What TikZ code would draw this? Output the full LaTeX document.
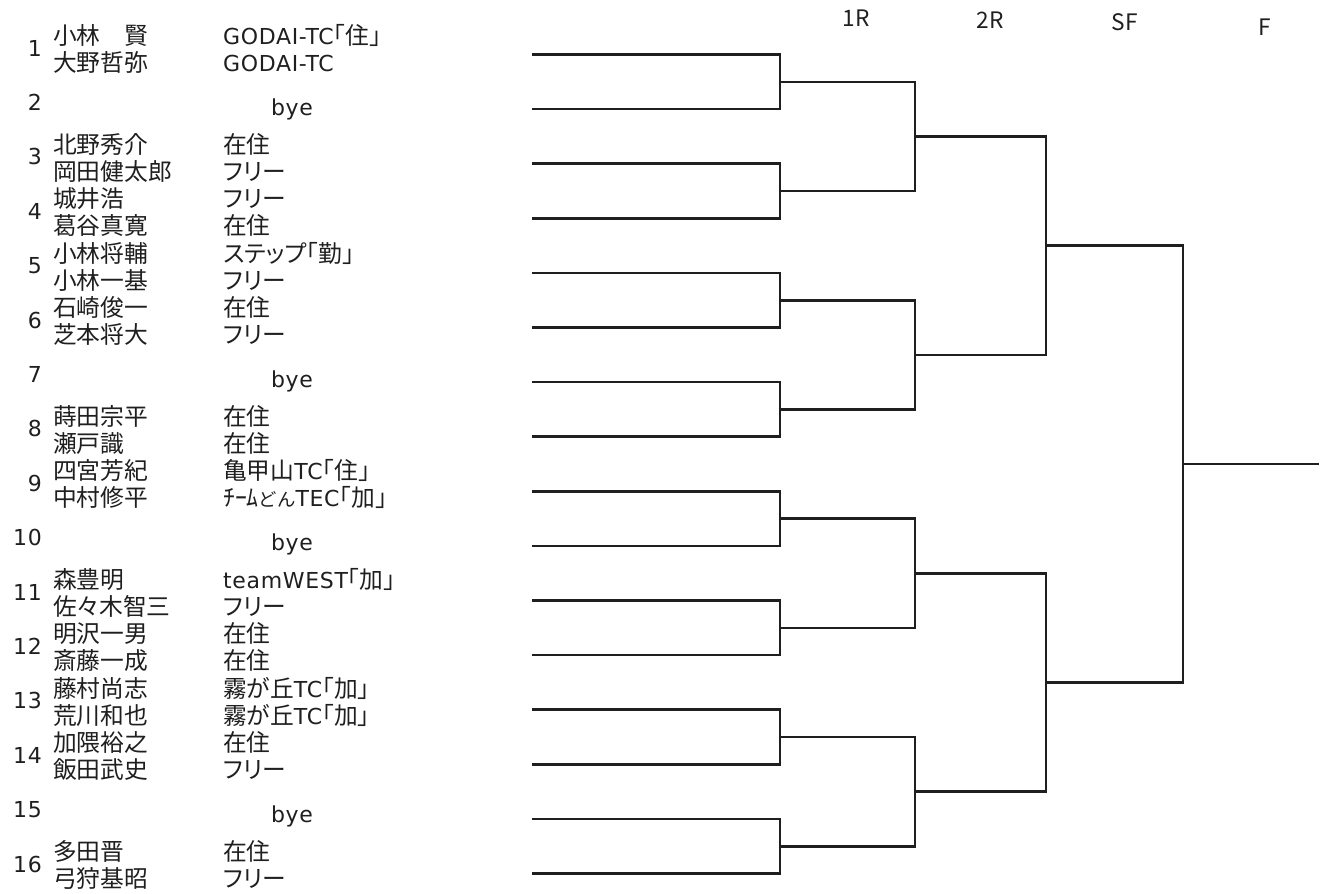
\documentclass[tikz,border=0pt]{standalone}
\usepackage{fontspec}
\setmainfont{DejaVu Sans}[LetterSpace=3]
\newfontfamily\jp[Scale=1.08,RawFeature=+palt]{Noto Sans CJK JP}
\newfontfamily\jpw[Scale=1.08]{Noto Sans CJK JP}
\newcommand\J[1]{{\jp #1}}
\usetikzlibrary{calc}
\begin{document}
\begin{tikzpicture}[x=1pt,y=-1pt,
  bline/.style={line width=2.6pt, draw=black!88, line cap=rect, line join=miter},
  txt/.style={inner sep=0pt, text height=18pt, text depth=2pt, text=black!88, font=\fontsize{22}{25}\selectfont},
  nm/.style={txt, anchor=west, font=\fontsize{22}{25}\selectfont\jp},
  af/.style={txt, anchor=west},
  num/.style={txt, anchor=east},
  byetxt/.style={txt, anchor=center},
  hdr/.style={txt, anchor=center, font=\fontsize{21}{24}\selectfont\jp}]
\useasboundingbox (0,0) rectangle (1323,894);

% round headers
\node[hdr] (h1) at (856,18) {1R};
\node[hdr] (h2) at (990,20) {2R};
\node[hdr] (h3) at (1125,22) {SF};
\node[hdr] (h4) at (1265,27) {F};

% players
\foreach \k/\na/\nb/\aa/\ab in {
 1/小林　賢/大野哲弥/GODAI-TC\J{｢住｣}/GODAI-TC,
 3/北野秀介/岡田健太郎/\J{在住}/\J{フリー},
 4/城井浩/葛谷真寛/\J{フリー}/\J{在住},
 5/小林将輔/小林一基/\J{ステップ｢勤｣}/\J{フリー},
 6/石崎俊一/芝本将大/\J{在住}/\J{フリー},
 8/蒔田宗平/瀬戸識/\J{在住}/\J{在住},
 9/四宮芳紀/中村修平/\J{亀甲山}TC\J{｢住｣}/{\jpw ﾁｰﾑ\fontsize{17}{20}\selectfont どん}TEC\J{｢加｣},
 11/森豊明/佐々木智三/teamWEST\J{｢加｣}/\J{フリー},
 12/明沢一男/斎藤一成/\J{在住}/\J{在住},
 13/藤村尚志/荒川和也/\J{霧が丘}TC\J{｢加｣}/\J{霧が丘}TC\J{｢加｣},
 14/加隈裕之/飯田武史/\J{在住}/\J{フリー},
 16/多田晋/弓狩基昭/\J{在住}/\J{フリー}}{
  \pgfmathsetmacro\cy{50+54.4*(\k-1)}
  \node[num] (n\k) at (42,\cy-2) {\k};
  \node[nm] (na\k) at (53,\cy-13.5) {\na};
  \node[nm] (nb\k) at (53,\cy+13.5) {\nb};
  \node[af] (aa\k) at (223,\cy-13.5) {\aa};
  \node[af] (ab\k) at (223,\cy+13.5) {\ab};
}
% byes
\foreach \k in {2,7,10,15}{
  \pgfmathsetmacro\cy{50+54.4*(\k-1)}
  \node[num] (n\k) at (42,\cy-2) {\k};
  \node[byetxt] (bye\k) at (292,\cy+3) {bye};
}

% bracket end points
\foreach \k in {1,...,16}{
  \pgfmathsetmacro\yy{54.5+54.6*(\k-1)}
  \coordinate (L\k) at (533,\yy);
  \coordinate (R\k) at (780,\yy);
}
% first round
\foreach \j in {1,...,8}{
  \pgfmathtruncatemacro\a{2*\j-1}
  \pgfmathtruncatemacro\b{2*\j}
  \draw[bline] (L\a) -- (R\a) -- (R\b) -- (L\b);
  \coordinate (M\j) at ($(R\a)!0.5!(R\b)$);
  \coordinate (N\j) at ($(M\j)+(135,0)$);
}
% second round
\foreach \j in {1,...,4}{
  \pgfmathtruncatemacro\a{2*\j-1}
  \pgfmathtruncatemacro\b{2*\j}
  \draw[bline] (M\a) -- (N\a) -- (N\b) -- (M\b);
  \coordinate (P\j) at ($(N\a)!0.5!(N\b)$);
  \coordinate (Q\j) at ($(P\j)+(131,0)$);
}
% semi-finals
\foreach \j in {1,2}{
  \pgfmathtruncatemacro\a{2*\j-1}
  \pgfmathtruncatemacro\b{2*\j}
  \draw[bline] (P\a) -- (Q\a) -- (Q\b) -- (P\b);
  \coordinate (S\j) at ($(Q\a)!0.5!(Q\b)$);
  \coordinate (T\j) at ($(S\j)+(137,0)$);
}
% final
\draw[bline] (S1) -- (T1) -- (T2) -- (S2);
\coordinate (U) at ($(T1)!0.5!(T2)$);
\coordinate (V) at (1318,0 |- U);
\draw[bline] (U) -- (V);
\end{tikzpicture}
\end{document}
